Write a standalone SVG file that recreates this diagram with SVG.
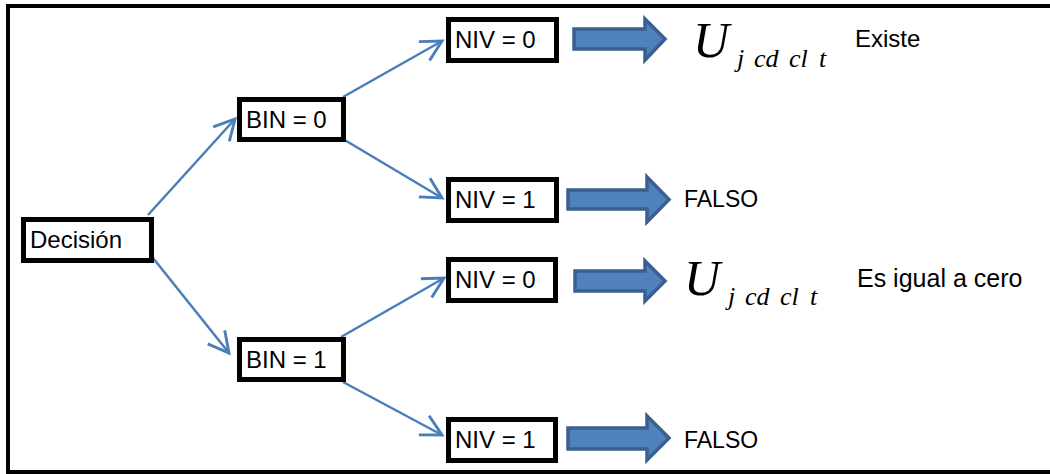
<svg xmlns="http://www.w3.org/2000/svg" width="1050" height="474" viewBox="0 0 1050 474">
<style>
.box{fill:#fff;stroke:#000;stroke-width:5}
.lbl{font-family:"Liberation Sans",Arial,sans-serif;font-size:24px;fill:#000}
.txt{font-family:"Liberation Sans",Arial,sans-serif;fill:#000}
.math{font-family:"Liberation Serif","Times New Roman",serif;font-style:italic;fill:#000}
.conn{fill:none;stroke:#4A7EBB;stroke-width:2.5}
.blk{fill:#4F81BD;stroke:#3A6090;stroke-width:3.5;stroke-linejoin:miter}
</style>
<defs>
<marker id="ah" markerUnits="userSpaceOnUse" markerWidth="30" markerHeight="30" viewBox="-22 -12 26 24" refX="0" refY="0" orient="auto">
<path d="M-17.7,-9.4 L0,0 L-17.7,9.4" fill="none" stroke="#4A7EBB" stroke-width="2.5"/>
</marker>
</defs>
<rect width="1050" height="474" fill="#fff"/>
<path d="M1050,6 H8 V472 H1050" fill="none" stroke="#000" stroke-width="4"/>
<g id="connectors">
<line class="conn" x1="148" y1="215" x2="235" y2="119" marker-end="url(#ah)"/>
<line class="conn" x1="153" y1="258" x2="229" y2="353" marker-end="url(#ah)"/>
<line class="conn" x1="343" y1="97" x2="442" y2="41" marker-end="url(#ah)"/>
<line class="conn" x1="343" y1="139" x2="442" y2="198" marker-end="url(#ah)"/>
<line class="conn" x1="341" y1="337" x2="444" y2="278" marker-end="url(#ah)"/>
<line class="conn" x1="343" y1="382" x2="442" y2="435" marker-end="url(#ah)"/>
<path class="blk" d="M574,29 H645 V19 L665,39 L645,60 V49 H574 Z"/>
<path class="blk" d="M568,190 H647 V177 L669,199.5 L647,222 V209 H568 Z"/>
<path class="blk" d="M575,271 H645 V261 L665,281 L645,301 V291 H575 Z"/>
<path class="blk" d="M568,428 H647 V416 L669,438 L647,460 V449 H568 Z"/>
</g>
<g id="decision"><rect class="box" x="23.5" y="219.5" width="128" height="41"/><text class="lbl" x="30" y="248">Decisión</text></g>
<g id="bin0"><rect class="box" x="239.5" y="99.5" width="104" height="40"/><text class="lbl" x="246" y="128">BIN = 0</text></g>
<g id="bin1"><rect class="box" x="239.5" y="339.5" width="104" height="40"/><text class="lbl" x="246" y="368">BIN = 1</text></g>
<g id="niv0a"><rect class="box" x="448.5" y="19.5" width="108" height="41"/><text class="lbl" x="455" y="48">NIV = 0</text></g>
<g id="niv1a"><rect class="box" x="448.5" y="179.5" width="108" height="41"/><text class="lbl" x="455" y="208">NIV = 1</text></g>
<g id="niv0b"><rect class="box" x="448.5" y="259.5" width="107" height="41"/><text class="lbl" x="455" y="288">NIV = 0</text></g>
<g id="niv1b"><rect class="box" x="448.5" y="419.5" width="107" height="41"/><text class="lbl" x="455" y="448">NIV = 1</text></g>
<g id="res0a">
<text class="math" x="693" y="57" style="font-size:50px">U</text>
<text class="math" style="font-size:26px" y="67"><tspan x="737">j</tspan><tspan x="754">cd</tspan><tspan x="789">cl</tspan><tspan x="819">t</tspan></text>
<text class="txt" x="855" y="47" style="font-size:24px">Existe</text>
</g>
<g id="res1a"><text class="txt" x="684" y="207" style="font-size:23px">FALSO</text></g>
<g id="res0b">
<text class="math" x="684" y="295" style="font-size:50px">U</text>
<text class="math" style="font-size:26px" y="305"><tspan x="728">j</tspan><tspan x="745">cd</tspan><tspan x="780">cl</tspan><tspan x="810">t</tspan></text>
<text class="txt" x="857" y="287" style="font-size:25px">Es igual a cero</text>
</g>
<g id="res1b"><text class="txt" x="684" y="448" style="font-size:23px">FALSO</text></g>
</svg>
